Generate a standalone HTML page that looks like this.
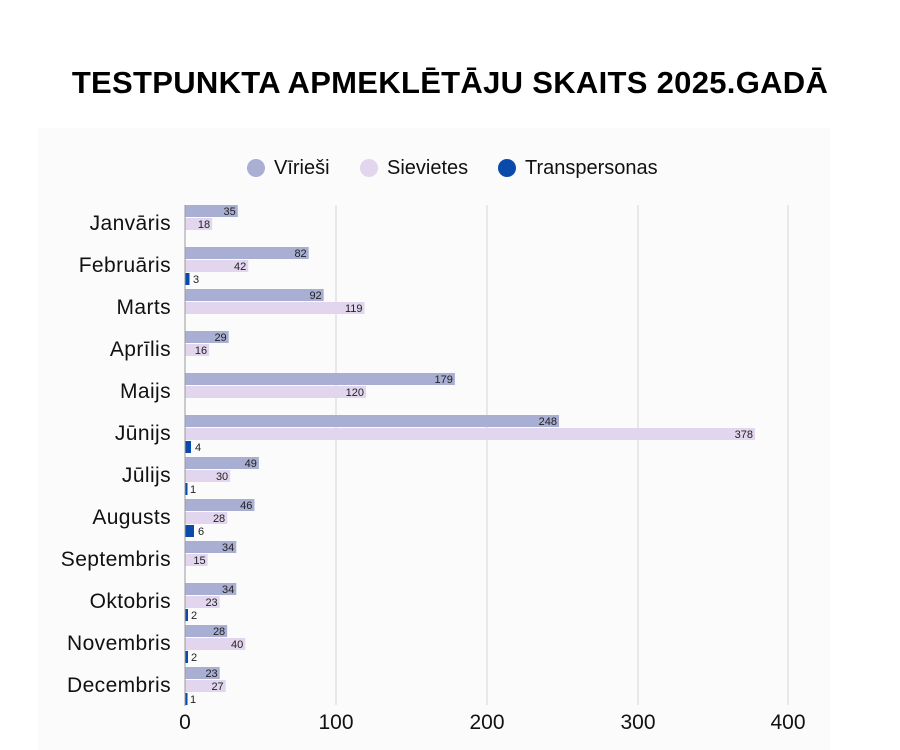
<!DOCTYPE html>
<html><head><meta charset="utf-8"><style>
html,body{margin:0;padding:0;background:#fff;}
svg{display:block;font-family:"Liberation Sans",sans-serif;}
</style></head><body>
<svg width="900" height="750" viewBox="0 0 900 750">
<rect x="0" y="0" width="900" height="750" fill="#fff"/>
<text x="450" y="93" text-anchor="middle" font-size="31" font-weight="bold" fill="#000" letter-spacing="0.3">TESTPUNKTA APMEKLĒTĀJU SKAITS 2025.GADĀ</text>
<rect x="38" y="128" width="792" height="622" fill="#fbfbfb"/>
<circle cx="256" cy="168" r="9" fill="#a9aed3"/><text x="274" y="174" font-size="20" fill="#111">Vīrieši</text>
<circle cx="369" cy="168" r="9" fill="#e2d5ee"/><text x="387" y="174" font-size="20" fill="#111">Sievietes</text>
<circle cx="507" cy="168" r="9" fill="#0a4aab"/><text x="525" y="174" font-size="20" fill="#111">Transpersonas</text>
<g stroke="#d4d4d4" stroke-width="1">
<line x1="336" y1="205" x2="336" y2="705"/><line x1="487" y1="205" x2="487" y2="705"/><line x1="638" y1="205" x2="638" y2="705"/><line x1="788" y1="205" x2="788" y2="705"/>
</g>
<g font-size="21" fill="#111" text-anchor="middle">
<text x="185" y="729">0</text><text x="336" y="729">100</text><text x="487" y="729">200</text><text x="638" y="729">300</text><text x="788" y="729">400</text>
</g>
<g font-size="21" fill="#111" text-anchor="end" letter-spacing="0.4">
<text x="171" y="230">Janvāris</text>
<text x="171" y="272">Februāris</text>
<text x="171" y="314">Marts</text>
<text x="171" y="356">Aprīlis</text>
<text x="171" y="398">Maijs</text>
<text x="171" y="440">Jūnijs</text>
<text x="171" y="482">Jūlijs</text>
<text x="171" y="524">Augusts</text>
<text x="171" y="566">Septembris</text>
<text x="171" y="608">Oktobris</text>
<text x="171" y="650">Novembris</text>
<text x="171" y="692">Decembris</text>
</g>
<g fill="#a9aed3">
<rect x="185" y="205" width="52.8" height="12"/>
<rect x="185" y="247" width="123.7" height="12"/>
<rect x="185" y="289" width="138.7" height="12"/>
<rect x="185" y="331" width="43.7" height="12"/>
<rect x="185" y="373" width="269.9" height="12"/>
<rect x="185" y="415" width="374" height="12"/>
<rect x="185" y="457" width="73.9" height="12"/>
<rect x="185" y="499" width="69.4" height="12"/>
<rect x="185" y="541" width="51.3" height="12"/>
<rect x="185" y="583" width="51.3" height="12"/>
<rect x="185" y="625" width="42.2" height="12"/>
<rect x="185" y="667" width="34.7" height="12"/>
</g>
<g fill="#e2d5ee">
<rect x="185" y="218" width="27.1" height="12"/>
<rect x="185" y="260" width="63.3" height="12"/>
<rect x="185" y="302" width="179.5" height="12"/>
<rect x="185" y="344" width="24.1" height="12"/>
<rect x="185" y="386" width="181" height="12"/>
<rect x="185" y="428" width="570" height="12"/>
<rect x="185" y="470" width="45.2" height="12"/>
<rect x="185" y="512" width="42.2" height="12"/>
<rect x="185" y="554" width="22.6" height="12"/>
<rect x="185" y="596" width="34.7" height="12"/>
<rect x="185" y="638" width="60.3" height="12"/>
<rect x="185" y="680" width="40.7" height="12"/>
</g>
<g fill="#0a4aab">
<rect x="185" y="273" width="4.5" height="12"/>
<rect x="185" y="441" width="6" height="12"/>
<rect x="185" y="483" width="2.5" height="12"/>
<rect x="185" y="525" width="9" height="12"/>
<rect x="185" y="609" width="3" height="12"/>
<rect x="185" y="651" width="3" height="12"/>
<rect x="185" y="693" width="2.5" height="12"/>
</g>
<g font-size="11" fill="#222" text-anchor="end">
<text x="235.8" y="215">35</text><text x="210.1" y="228">18</text>
<text x="306.7" y="257">82</text><text x="246.3" y="270">42</text>
<text x="321.7" y="299">92</text><text x="362.5" y="312">119</text>
<text x="226.7" y="341">29</text><text x="207.1" y="354">16</text>
<text x="452.9" y="383">179</text><text x="364" y="396">120</text>
<text x="557" y="425">248</text><text x="753" y="438">378</text>
<text x="256.9" y="467">49</text><text x="228.2" y="480">30</text>
<text x="252.4" y="509">46</text><text x="225.2" y="522">28</text>
<text x="234.3" y="551">34</text><text x="205.6" y="564">15</text>
<text x="234.3" y="593">34</text><text x="217.7" y="606">23</text>
<text x="225.2" y="635">28</text><text x="243.3" y="648">40</text>
<text x="217.7" y="677">23</text><text x="223.7" y="690">27</text>
</g>
<g font-size="11" fill="#222">
<text x="193" y="283">3</text>
<text x="195" y="451">4</text>
<text x="190" y="493">1</text>
<text x="198" y="535">6</text>
<text x="191" y="619">2</text>
<text x="191" y="661">2</text>
<text x="190" y="703">1</text>
</g>
<line x1="185" y1="205" x2="185" y2="706" stroke="#999" stroke-width="1"/>
</svg>
</body></html>
